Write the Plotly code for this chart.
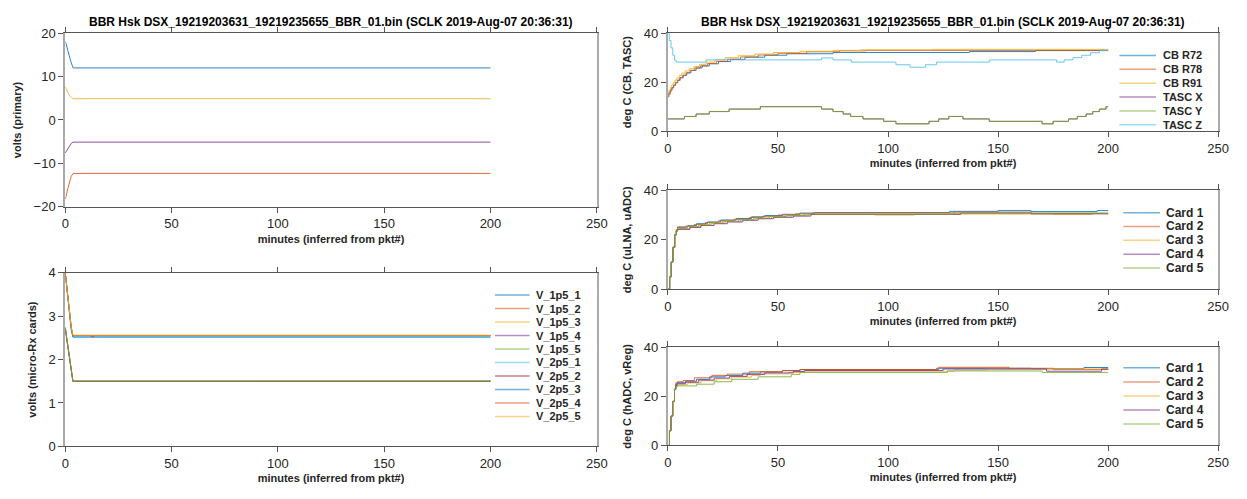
import plotly.graph_objects as go

# MATLAB default colour order
BLUE, ORANGE, YELLOW, PURPLE, GREEN, CYAN, DARKRED = (
    "#0072BD", "#D95319", "#EDB120", "#7E2F8E", "#77AC30", "#4DBEEE", "#A2142F")

TITLE = "BBR Hsk DSX_19219203631_19219235655_BBR_01.bin (SCLK 2019-Aug-07 20:36:31)"
XLABEL = "minutes (inferred from pkt#)"
X_TICKS = [0, 50, 100, 150, 200, 250]

# ---- primary voltages (linear segments) ----
prim_t = [0, 0.4, 1.2, 2.0, 2.8, 3.7, 200]
prim_p12 = [18.0, 17.6, 16.0, 14.5, 13.2, 12.0, 12.0]
prim_n12 = [-18.2, -17.6, -15.8, -14.2, -13.0, -12.3, -12.3]
prim_p5 = [7.6, 7.2, 6.3, 5.6, 5.2, 4.9, 4.9]
prim_n5 = [-7.6, -7.3, -6.5, -5.8, -5.4, -5.1, -5.1]

# ---- micro-Rx card rails (linear segments) ----
rx_names = ["V_1p5_1", "V_1p5_2", "V_1p5_3", "V_1p5_4", "V_1p5_5",
            "V_2p5_1", "V_2p5_2", "V_2p5_3", "V_2p5_4", "V_2p5_5"]
rx_t = [0, 0.5, 1.2, 2.0, 2.8, 3.6, 12.0, 12.2, 13.5, 13.7, 200]
rx_v1p5_1 = [2.72, 2.55, 2.25, 1.95, 1.70, 1.50, 1.50, 1.50, 1.50, 1.50, 1.50]
rx_v1p5_2 = [2.72, 2.55, 2.25, 1.95, 1.70, 1.50, 1.50, 1.50, 1.50, 1.50, 1.50]
rx_v1p5_3 = [2.72, 2.55, 2.25, 1.95, 1.70, 1.50, 1.50, 1.50, 1.50, 1.50, 1.50]
rx_v1p5_4 = [2.72, 2.55, 2.25, 1.95, 1.70, 1.50, 1.50, 1.50, 1.50, 1.50, 1.50]
rx_v1p5_5 = [2.75, 2.58, 2.28, 1.98, 1.72, 1.505, 1.505, 1.505, 1.505, 1.505, 1.505]
rx_v2p5_1 = [4.00, 3.75, 3.35, 2.95, 2.70, 2.52, 2.52, 2.52, 2.52, 2.52, 2.52]
rx_v2p5_2 = [4.00, 3.78, 3.40, 3.00, 2.75, 2.555, 2.555, 2.555, 2.555, 2.555, 2.555]
rx_v2p5_3 = [4.00, 3.75, 3.35, 2.95, 2.70, 2.52, 2.52, 2.52, 2.52, 2.52, 2.52]
rx_v2p5_4 = [4.00, 3.78, 3.40, 3.00, 2.75, 2.555, 2.555, 2.53, 2.53, 2.555, 2.555]
rx_v2p5_5 = [4.00, 3.78, 3.40, 3.00, 2.75, 2.56, 2.56, 2.56, 2.56, 2.56, 2.56]

# ---- cold-block and TASC temperatures (step series: x breakpoints, y levels) ----
cb_names = ["CB R72", "CB R78", "CB R91", "TASC X", "TASC Y", "TASC Z"]
cb_r72_t = [0, 0.5, 1.1, 1.8, 2.6, 3.5, 4.5, 5.6, 7, 8.6, 10.5, 12.8, 15.5, 18.8,
            23, 28.5, 35, 44, 54, 75, 137, 167, 200]
cb_r72_v = [14.8, 15.8, 16.8, 17.8, 18.8, 19.8, 20.8, 21.8, 22.8, 23.8, 24.8, 25.8,
            26.6, 27.5, 28.4, 29.3, 30.2, 31.0, 31.6, 32.1, 32.5, 32.9, 32.9]
cb_r78_t = [0, 0.5, 1.1, 1.8, 2.6, 3.4, 4.3, 5.3, 6.6, 8.2, 10, 12.2, 14.8, 18,
            22, 27, 33, 41, 50, 63, 78, 90, 200]
cb_r78_v = [14.0, 15.2, 16.4, 17.6, 18.7, 19.8, 20.8, 21.8, 22.8, 23.8, 24.8, 25.8,
            26.7, 27.6, 28.5, 29.4, 30.3, 31.1, 31.8, 32.4, 32.8, 33.0, 33.0]
cb_r91_t = [0, 0.5, 1.1, 1.7, 2.4, 3.2, 4.1, 5.1, 6.3, 7.8, 9.6, 11.8, 14.3, 17.4,
            21.3, 26, 32, 39.5, 48, 60, 75, 88, 120, 200]
cb_r91_v = [15.6, 16.7, 17.8, 18.8, 19.8, 20.8, 21.8, 22.8, 23.7, 24.6, 25.5, 26.4,
            27.3, 28.2, 29.1, 30.0, 30.8, 31.5, 32.1, 32.6, 33.0, 33.2, 33.4, 33.4]
tasc_y_t = [0, 7.5, 12.8, 18.8, 27.8, 42, 69.8, 75, 79.6, 83, 88.6, 98, 103.6, 118.6,
            123, 127.6, 134, 146, 170, 175, 182, 186, 190, 193, 196, 199, 200]
tasc_y_v = [5, 6, 7, 8, 9, 10, 9, 8, 7, 6, 5, 4, 3, 4, 5, 6, 5, 4, 3, 4, 5, 6, 7, 8, 9, 10, 10]
tasc_x_t = tasc_y_t
tasc_x_v = tasc_y_v
tasc_z_t = [0, 0.6, 1.4, 2.2, 3.0, 3.75, 17.3, 69.8, 75, 83.3, 103.6, 110, 117, 122,
            146, 176.6, 180, 184, 188, 192, 196, 200]
tasc_z_v = [40, 37, 34, 31, 29, 28.2, 29.1, 29.9, 29.1, 28.2, 27.1, 26.1, 27.1, 28.2,
            29.1, 28.2, 29.1, 30, 31, 32, 33, 33]

# ---- uLNA / uADC card temperatures (step series) ----
card_names = ["Card 1", "Card 2", "Card 3", "Card 4", "Card 5"]
lna_c1_t = [0, 0.8, 1.5, 2.3, 3.1, 3.8, 4.4, 9, 13, 18, 24, 31, 38, 44, 52, 60, 67, 128, 150, 165, 195, 200]
lna_c1_v = [0, 5, 11, 17, 22, 24, 25.2, 25.7, 26.5, 27.2, 28, 28.6, 29.3, 29.8, 30.3, 30.8, 31,
            31.5, 31.8, 31.4, 31.8, 31.8]
lna_c2_t = [0, 0.8, 1.5, 2.3, 3.1, 3.8, 4.4, 8, 12, 17, 23, 30, 37, 43, 50, 58, 66, 130, 165, 200]
lna_c2_v = [0, 5, 11, 17, 22, 24, 25.0, 25.5, 26.2, 27, 27.7, 28.3, 29, 29.5, 30, 30.5, 30.9,
            31.2, 30.7, 30.7]
lna_c3_t = [0, 0.8, 1.5, 2.3, 3.1, 3.8, 4.4, 10, 15, 20, 26, 33, 40, 47, 56, 64, 94, 112, 175, 193, 200]
lna_c3_v = [0, 5, 11, 17, 22, 23.5, 24.5, 25.2, 26, 26.7, 27.4, 28, 28.6, 29.2, 29.7, 30.2, 30.0,
            30.4, 30.2, 30.6, 30.6]
lna_c4_t = [0, 0.8, 1.5, 2.3, 3.1, 3.8, 4.4, 10, 15, 21, 27, 34, 41, 48, 57, 65, 133, 165, 200]
lna_c4_v = [0, 5, 11, 17, 22, 23.5, 24.2, 25, 25.8, 26.5, 27.2, 27.9, 28.5, 29.1, 29.6, 30.3,
            30.8, 30.5, 30.5]
lna_c5_t = [0, 0.8, 1.5, 2.3, 3.1, 3.8, 4.4, 9, 14, 19, 25, 32, 39, 46, 54, 62, 130, 200]
lna_c5_v = [0, 5, 11, 17, 22, 23.5, 24.6, 25.3, 26, 26.8, 27.5, 28.1, 28.8, 29.4, 29.9, 30.4,
            30.8, 30.8]

# ---- hADC / vReg card temperatures (step series) ----
hadc_c1_t = [0, 0.7, 1.4, 2.2, 3.0, 3.6, 4.2, 8, 13, 19, 26, 34, 42, 52, 60, 122, 165, 189, 200]
hadc_c1_v = [0, 6, 12, 18, 23, 25, 25.6, 26.2, 27, 28, 28.5, 29.5, 30, 30.5, 31, 31.5, 31.3, 31.8, 31.8]
hadc_c2_t = [0, 0.7, 1.4, 2.2, 3.0, 3.6, 4.2, 7, 12, 20, 27, 37, 52, 60, 123, 155, 175, 200]
hadc_c2_v = [0, 6, 12, 18, 23, 25.5, 26, 26.5, 27.6, 28.6, 29.1, 30.1, 30.6, 31, 31.9, 31.5, 31.0, 31.2]
hadc_c3_t = [0, 0.7, 1.4, 2.2, 3.0, 3.6, 4.2, 9, 15, 22, 29, 38, 42, 55, 62, 130, 145, 200]
hadc_c3_v = [0, 6, 12, 18, 23, 24, 24.8, 25.5, 26.4, 27.2, 27.9, 28.6, 29.2, 29.8, 30.3, 30.8, 31.2, 31.0]
hadc_c4_t = [0, 0.7, 1.4, 2.2, 3.0, 3.6, 4.2, 8, 14, 21, 28, 36, 44, 57, 62, 125, 172, 197, 200]
hadc_c4_v = [0, 6, 12, 18, 23, 24.5, 25.2, 25.8, 26.7, 27.5, 28.2, 29, 29.6, 30.2, 30.6, 31.2, 30.3, 31.2, 31.2]
hadc_c5_t = [0, 0.7, 1.4, 2.2, 3.0, 3.6, 4.2, 13, 21, 29, 41, 56, 60, 127, 170, 200]
hadc_c5_v = [0, 6, 12, 18, 23, 24, 24.3, 25, 26, 27, 28, 29, 29.8, 30.4, 29.8, 29.8]

W, H = 1247, 499
FONT = "Liberation Sans, Arial, Helvetica, sans-serif"
TXT = "#262626"


def fx(p):
    return p / W


def fy(p):
    return 1 - p / H


# subplot frames in pixels: (left, right, top, bottom, y range, y step, y title)
panels = {
    "1": (62, 600, 27, 206, [-20, 20], 10, "volts (primary)"),
    "2": (62, 600, 274, 453, [0, 4], 1, "volts (micro-Rx cards)"),
    "3": (672, 1229, 27, 128, [0, 40], 20, "deg C (CB, TASC)"),
    "4": (672, 1229, 189, 291, [0, 40], 20, "deg C (uLNA, uADC)"),
    "5": (672, 1229, 351, 452, [0, 40], 20, "deg C (hADC, vReg)"),
}

fig = go.Figure()


def add(axis, x, y, color, shape="linear"):
    sfx = "" if axis == "1" else axis
    fig.add_trace(go.Scatter(
        x=x, y=y, mode="lines", showlegend=False, opacity=0.85,
        line=dict(color=color, width=1, shape=shape),
        xaxis="x" + sfx, yaxis="y" + sfx,
    ))


# primary voltages
for vals, col in zip([prim_p12, prim_n12, prim_p5, prim_n5], [BLUE, ORANGE, YELLOW, PURPLE]):
    add("1", prim_t, vals, col)

# micro-Rx rails
rx_vals = [rx_v1p5_1, rx_v1p5_2, rx_v1p5_3, rx_v1p5_4, rx_v1p5_5,
           rx_v2p5_1, rx_v2p5_2, rx_v2p5_3, rx_v2p5_4, rx_v2p5_5]
rx_cols = [BLUE, ORANGE, YELLOW, PURPLE, GREEN, CYAN, DARKRED, BLUE, ORANGE, YELLOW]
for vals, col in zip(rx_vals, rx_cols):
    add("2", rx_t, vals, col)

# CB / TASC
cb_series = [(cb_r72_t, cb_r72_v), (cb_r78_t, cb_r78_v), (cb_r91_t, cb_r91_v),
             (tasc_x_t, tasc_x_v), (tasc_y_t, tasc_y_v), (tasc_z_t, tasc_z_v)]
cb_cols = [BLUE, ORANGE, YELLOW, PURPLE, GREEN, CYAN]
for (t, v), col in zip(cb_series, cb_cols):
    add("3", t, v, col, shape="hv")

card_cols = [BLUE, ORANGE, YELLOW, PURPLE, GREEN]
lna = [(lna_c1_t, lna_c1_v), (lna_c2_t, lna_c2_v), (lna_c3_t, lna_c3_v),
       (lna_c4_t, lna_c4_v), (lna_c5_t, lna_c5_v)]
for (t, v), col in zip(lna, card_cols):
    add("4", t, v, col, shape="hv")

hadc = [(hadc_c1_t, hadc_c1_v), (hadc_c2_t, hadc_c2_v), (hadc_c3_t, hadc_c3_v),
        (hadc_c4_t, hadc_c4_v), (hadc_c5_t, hadc_c5_v)]
for (t, v), col in zip(hadc, card_cols):
    add("5", t, v, col, shape="hv")

layout = dict(
    width=W, height=H,
    margin=dict(l=0, r=0, t=0, b=0),
    paper_bgcolor="white", plot_bgcolor="white",
    font=dict(family=FONT, size=13, color=TXT),
    showlegend=False,
)

for k, (l, r, t, b, yr, dt, ytitle) in panels.items():
    sfx = "" if k == "1" else k
    layout["xaxis" + sfx] = dict(
        domain=[fx(l), fx(r)], anchor="y" + sfx, range=[0, 250], tickvals=X_TICKS,
        showgrid=False, zeroline=False, showline=True, linecolor="#555555", linewidth=1,
        mirror="ticks", ticks="outside", ticklen=5, tickcolor="#555555",
        tickfont=dict(size=13, color=TXT),
        title=dict(text="<b>" + XLABEL + "</b>", font=dict(size=11, color=TXT), standoff=4),
    )
    layout["yaxis" + sfx] = dict(
        domain=[fy(b), fy(t)], anchor="x" + sfx, range=yr, dtick=dt,
        showgrid=False, zeroline=False, showline=True, linecolor="#aaaaaa", linewidth=2,
        mirror=True, ticks="outside", ticklen=5, tickcolor="#555555",
        tickfont=dict(size=13, color=TXT),
        title=dict(text="<b>" + ytitle + "</b>", font=dict(size=11, color=TXT), standoff=10),
    )

# legends: (names, colours, line x0, line x1, text x, first row y, row step, font size)
legends = [
    (rx_names, rx_cols, 497, 532, 536, 297, 13.9, 11),
    (cb_names, cb_cols, 1129, 1166, 1171, 50, 14.3, 11),
    (card_names, card_cols, 1133, 1170, 1174, 212, 14.3, 12),
    (card_names, card_cols, 1133, 1170, 1174, 372, 14.5, 12),
]
shapes, annotations = [], []
for names, cols, x0, x1, xt, y0, dy, fs in legends:
    for i, (nm, col) in enumerate(zip(names, cols)):
        yy = fy(y0 + i * dy)
        shapes.append(dict(type="line", xref="paper", yref="paper", x0=fx(x0), x1=fx(x1),
                           y0=yy, y1=yy, line=dict(color=col, width=1.5), opacity=0.55))
        annotations.append(dict(text="<b>" + nm + "</b>", x=fx(xt), y=yy, xref="paper",
                                yref="paper", showarrow=False, xanchor="left", yanchor="middle",
                                font=dict(size=fs, color=TXT)))

for cx in (331, 950):
    annotations.append(dict(text="<b>" + TITLE + "</b>", x=fx(cx), y=fy(15), xref="paper",
                            yref="paper", showarrow=False, xanchor="center", yanchor="middle",
                            font=dict(size=12, color="#000000")))

layout["shapes"] = shapes
layout["annotations"] = annotations
fig.update_layout(**layout)

fig.write_html("out.html")
